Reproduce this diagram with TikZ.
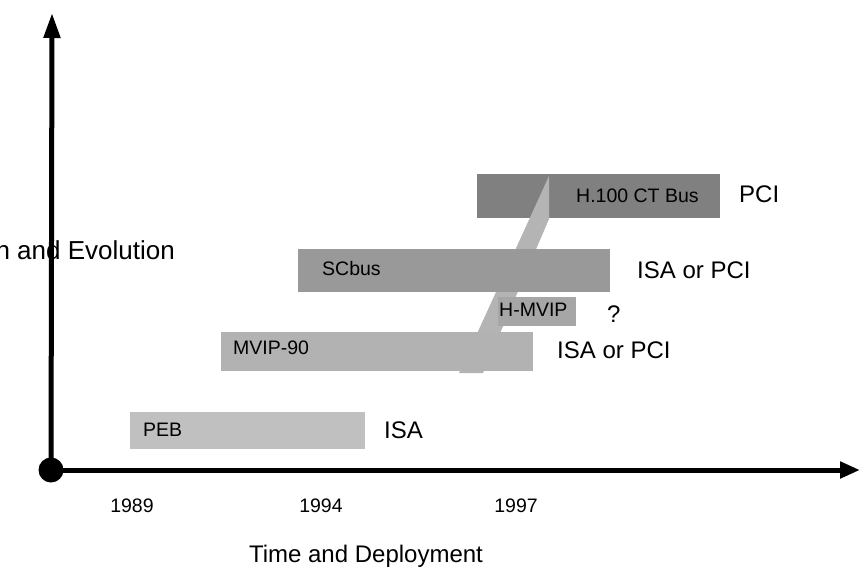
\documentclass[tikz,border=0pt]{standalone}
\usepackage{fontspec}
\setmainfont{Liberation Sans}
\usetikzlibrary{arrows.meta}
\definecolor{pebc}{HTML}{C0C0C0}
\definecolor{mvipc}{HTML}{B2B2B2}
\definecolor{scbusc}{HTML}{999999}
\definecolor{hmvipc}{HTML}{A6A6A6}
\definecolor{hundredc}{HTML}{808080}
\definecolor{bandc}{HTML}{B4B4B4}
\begin{document}
\begin{tikzpicture}[x=1pt,y=-1pt,
  big/.style={font=\fontsize{24}{28}\selectfont, inner sep=0pt},
  small/.style={font=\fontsize{19.5}{23}\selectfont, inner sep=0pt},
  axisline/.style={line width=5pt}]
\useasboundingbox (0,0) rectangle (861,567);
% bars
\fill[hundredc] (477,174) rectangle (720,218);
\fill[bandc] (549,176) -- (549,219) -- (483,373) -- (459,373) -- cycle;
\fill[scbusc] (298,249) rectangle (610,292);
\fill[hmvipc] (498,297) rectangle (576,326);
\fill[mvipc] (221,332) rectangle (533,371);
\fill[pebc] (130,412) rectangle (365,449);
% axes
\node[circle, fill=black, minimum size=25pt, inner sep=0pt] (origin) at (51,470) {};
\coordinate (ytip) at (52,13);
\coordinate (xtip) at (860,470);
\draw[axisline, -{Triangle[length=25pt,width=16pt]}] (origin.center) -- (ytip);
\draw[axisline, -{Triangle[length=20pt,width=16pt]}] (origin.center) -- (xtip);
% bar labels
\node[small, anchor=base west] (peb) at (143,436) {PEB};
\node[small, anchor=base west] (mvip) at (233,354.5) {MVIP-90};
\node[small, anchor=base west] (scbus) at (322,275.5) {SCbus};
\node[small, anchor=base west] (hmvip) at (499,316.5) {H-MVIP};
\node[small, anchor=base west] (h100) at (576,202) {H.100 CT Bus};
% bus labels
\node[big, anchor=base west] (isa1) at (384,438) {ISA};
\node[big, anchor=base west] (isa2) at (557,358) {ISA or PCI};
\node[big, anchor=base west] (isa3) at (637,278) {ISA or PCI};
\node[big, anchor=base west] (q) at (607,322) {?};
\node[big, anchor=base west] (pci) at (739,202) {PCI};
% years
\node[small, anchor=base] (y89) at (132,512) {1989};
\node[small, anchor=base] (y94) at (321,512) {1994};
\node[small, anchor=base] (y97) at (516,512) {1997};
% axis titles
\node[big, anchor=base] (xtitle) at (366,562) {Time and Deployment};
\node[font=\fontsize{26}{30}\selectfont, inner sep=0pt, anchor=base east] (ytitle) at (175,259) {n and Evolution};
\end{tikzpicture}
\end{document}
